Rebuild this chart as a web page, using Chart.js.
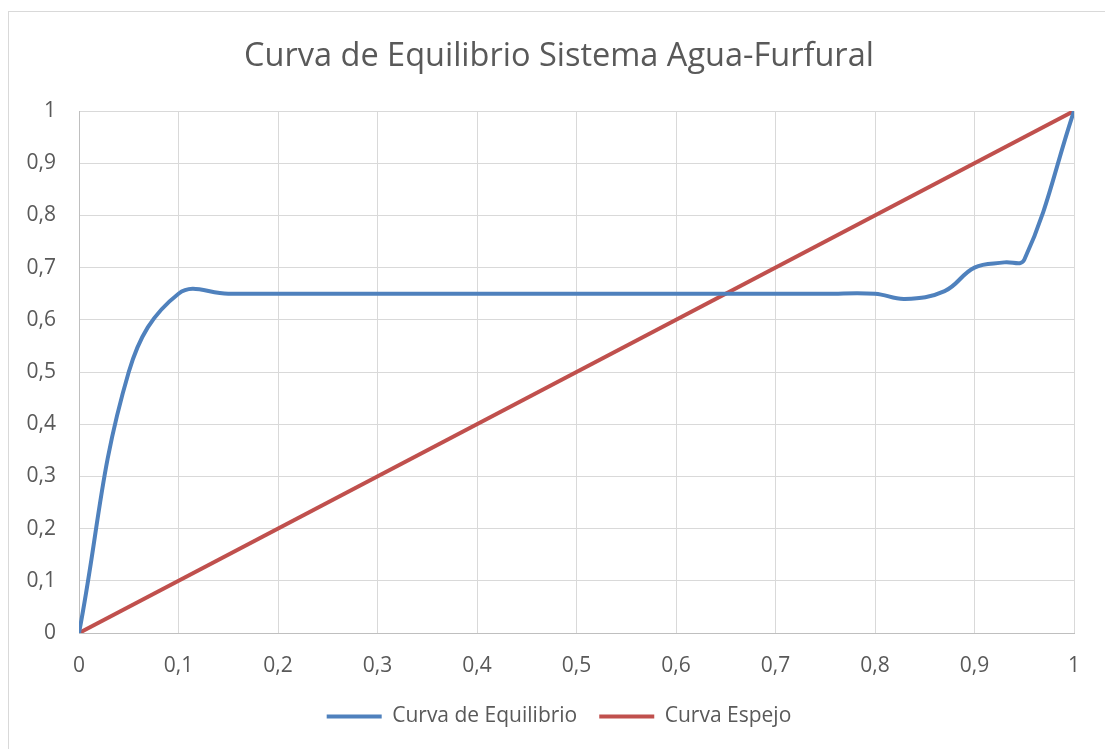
<!DOCTYPE html>
<html>
<head>
<meta charset="utf-8">
<script src="https://cdn.jsdelivr.net/npm/chart.js@4.4.1/dist/chart.umd.min.js"></script>
<style>
  html, body { margin: 0; padding: 0; background: #ffffff; }
  #wrap { width: 1105px; height: 749px; position: relative; }
</style>
</head>
<body>
<div id="wrap"><canvas id="chart" width="1105" height="749"></canvas></div>
<script>
// Equilibrium curve (water–furfural), fraction on x vs fraction on y
const eqX = [0, 0.05, 0.1, 0.15, 0.2, 0.3, 0.4, 0.5, 0.6, 0.7, 0.75, 0.8, 0.83, 0.87, 0.9, 0.93, 0.95, 1];
const eqY = [0, 0.5, 0.65, 0.65, 0.65, 0.65, 0.65, 0.65, 0.65, 0.65, 0.65, 0.65, 0.64, 0.655, 0.70, 0.71, 0.715, 1];

// Mirror (diagonal y = x) line
const mirrorX = [0, 1];
const mirrorY = [0, 1];

// Axis tick labels (comma as decimal separator)
const tickLabels = ['0', '0,1', '0,2', '0,3', '0,4', '0,5', '0,6', '0,7', '0,8', '0,9', '1'];

const seriesNames = ['Curva de Equilibrio', 'Curva Espejo'];
const chartTitle = 'Curva de Equilibrio Sistema Agua-Furfural';

const toPoints = (xs, ys) => xs.map((x, i) => ({ x: x, y: ys[i] }));
const tickText = (v) => tickLabels[Math.round(v * 10)] ?? '';

const textColor = '#595959';
const baseFont = "'Open Sans', 'Noto Sans', sans-serif";

// Outer frame of the chart object
const framePlugin = {
  id: 'frame',
  beforeDraw(chart) {
    const ctx = chart.ctx;
    ctx.save();
    ctx.fillStyle = '#ffffff';
    ctx.fillRect(0, 0, chart.width, chart.height);
    ctx.strokeStyle = '#d9d9d9';
    ctx.lineWidth = 1;
    ctx.strokeRect(8.5, 11.5, 1200, 1000);
    ctx.restore();
  }
};

new Chart(document.getElementById('chart'), {
  type: 'scatter',
  data: {
    datasets: [
      {
        label: seriesNames[0],
        data: toPoints(eqX, eqY),
        showLine: true,
        borderColor: '#4f81bd',
        backgroundColor: '#4f81bd',
        borderWidth: 4,
        pointRadius: 0,
        pointHoverRadius: 0,
        tension: 0.4
      },
      {
        label: seriesNames[1],
        data: toPoints(mirrorX, mirrorY),
        showLine: true,
        borderColor: '#c0504d',
        backgroundColor: '#c0504d',
        borderWidth: 4,
        pointRadius: 0,
        pointHoverRadius: 0,
        tension: 0
      }
    ]
  },
  options: {
    responsive: false,
    animation: false,
    devicePixelRatio: 1,
    layout: { padding: { left: 13, right: 0, top: 0, bottom: 12 } },
    plugins: {
      title: {
        display: true,
        text: chartTitle,
        color: textColor,
        font: { family: baseFont, size: 32.5, weight: 'normal', lineHeight: 1.2 },
        padding: { top: 37.5, bottom: 34.5 }
      },
      legend: {
        display: true,
        position: 'bottom',
        labels: {
          color: textColor,
          font: { family: baseFont, size: 21 },
          usePointStyle: true,
          pointStyle: 'line',
          pointStyleWidth: 55,
          padding: 22
        }
      },
      tooltip: { enabled: false }
    },
    scales: {
      x: {
        type: 'linear',
        min: 0,
        max: 1,
        afterFit(scale) { scale.height = 51; },
        ticks: {
          stepSize: 0.1,
          color: textColor,
          font: { family: baseFont, size: 21 },
          padding: 20,
          maxRotation: 0,
          callback: (v) => tickText(v)
        },
        grid: { color: '#d9d9d9', lineWidth: 1, drawTicks: false },
        border: { color: '#bfbfbf', width: 1 }
      },
      y: {
        type: 'linear',
        position: 'left',
        min: 0,
        max: 1,
        afterFit(scale) { scale.width = 66; },
        ticks: {
          stepSize: 0.1,
          color: textColor,
          font: { family: baseFont, size: 21 },
          padding: 23,
          callback: (v) => tickText(v)
        },
        grid: { color: '#d9d9d9', lineWidth: 1, drawTicks: false },
        border: { color: '#bfbfbf', width: 1 }
      },
      // empty right-hand margin axis so the plot ends short of the frame edge
      yRight: {
        type: 'linear',
        position: 'right',
        min: 0,
        max: 1,
        afterFit(scale) { scale.width = 31; },
        ticks: { display: false },
        grid: { display: false, drawTicks: false },
        border: { display: false }
      }
    }
  },
  plugins: [framePlugin]
});
</script>
</body>
</html>
